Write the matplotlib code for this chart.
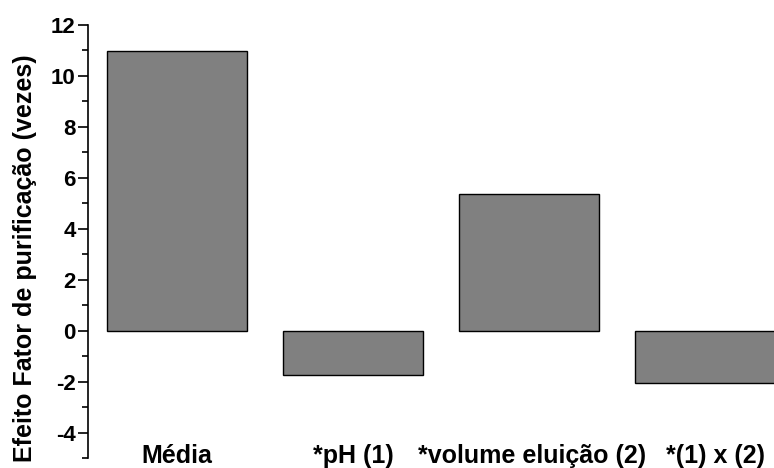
import numpy as np
import matplotlib
matplotlib.use("Agg")
import matplotlib.pyplot as plt
from matplotlib.ticker import MultipleLocator

categories = ["Média", "*pH (1)", "*volume eluição (2)", "*(1) x (2)"]
effects = [10.97, -1.75, 5.36, -2.04]

plt.rcParams['font.family'] = ['Liberation Sans', 'DejaVu Sans']
plt.rcParams['font.weight'] = 'bold'
plt.rcParams['axes.unicode_minus'] = False

fig = plt.figure(figsize=(7.74, 4.68), dpi=100)
ax = fig.add_axes([88 / 774, 10 / 468, 686 / 774, 433 / 468])

x = np.arange(len(categories))
ax.bar(x, effects, width=0.8, color='#808080', edgecolor='black', linewidth=1.0)

ax.set_xlim(-0.506, 3.392)
ax.set_ylim(-5, 12)
ax.yaxis.set_major_locator(MultipleLocator(2))
ax.yaxis.set_minor_locator(MultipleLocator(1))

for s in ['top', 'right', 'bottom']:
    ax.spines[s].set_visible(False)
ax.spines['left'].set_linewidth(1.2)
ax.set_xticks([])
ax.tick_params(axis='y', which='major', direction='out', length=7, width=1.2,
               labelsize=16, pad=2)
ax.tick_params(axis='y', which='minor', direction='out', length=4.5, width=1.2)
for lab in ax.get_yticklabels():
    lab.set_fontweight('bold')

# category names sit inside the plot, near the bottom (last two nudged right)
nudge = [0, 0, 0.02, 0.06]
for xi, dx, name in zip(x, nudge, categories):
    ax.text(xi + dx, -5.2, name, ha='center', va='baseline', fontsize=18,
            fontweight='bold', clip_on=False)

ax.set_ylabel("Efeito Fator de purificação (vezes)", fontsize=18,
              fontweight='bold')
ax.yaxis.set_label_coords(-0.075, 0.461)

fig.savefig("out.png", dpi=100)
